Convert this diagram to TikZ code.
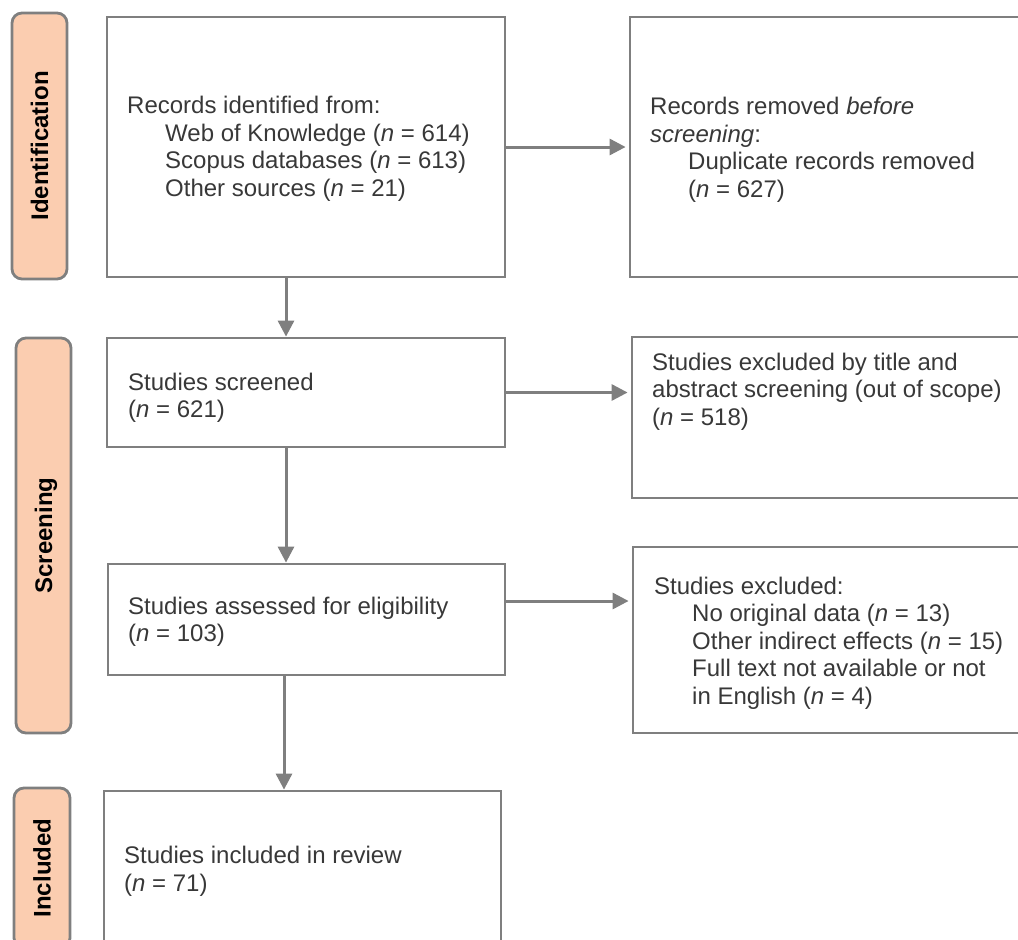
\documentclass[tikz,border=0pt]{standalone}
\usepackage{fontspec}
\setmainfont{Liberation Sans}
\usetikzlibrary{arrows.meta}
\definecolor{linegray}{HTML}{7F7F7F}
\definecolor{txtgray}{HTML}{383838}
\definecolor{peach}{HTML}{FBCDB0}
\tikzset{
  box/.style={draw=linegray, line width=2.8pt, rectangle, inner sep=0pt},
  sidebox/.style={draw=linegray, line width=2.8pt, fill=peach, rectangle, rounded corners=10pt, inner sep=0pt},
  sidetext/.style={rotate=90, font=\fontsize{24}{27.6}\selectfont\bfseries, text=black, inner sep=0pt, text height=17.2pt, text depth=0pt},
  body/.style={anchor=north west, align=left, inner sep=0pt, text=txtgray, font=\fontsize{24}{27.6}\selectfont},
  arr/.style={draw=linegray, line width=3pt, -{Triangle[length=16pt,width=16pt]}}
}
\newcommand{\ind}{\hspace*{38pt}}
\begin{document}
\begin{tikzpicture}[x=1pt,y=1pt]
\useasboundingbox (0,0) rectangle (1018,-940);
\clip (0,0) rectangle (1018,-940);
% side labels
\node[sidebox, minimum width=55pt, minimum height=266pt] (s1) at (39.5,-146) {};
\node[sidetext] (s1t) at (s1.center) {Identification};
\node[sidebox, minimum width=55pt, minimum height=395pt] (s2) at (43.5,-535.5) {};
\node[sidetext] (s2t) at (s2.center) {Screening};
\node[sidebox, minimum width=56pt, minimum height=160pt] (s3) at (42,-868) {};
\node[sidetext] (s3t) at (s3.center) {Included};
% boxes
\node[box, minimum width=398pt, minimum height=260pt] (b1) at (306,-147) {};
\node[box, minimum width=410pt, minimum height=260pt] (b2) at (835,-147) {};
\node[box, minimum width=398pt, minimum height=109pt] (b3) at (306,-392.5) {};
\node[box, minimum width=408pt, minimum height=161pt] (b4) at (836,-417.5) {};
\node[box, minimum width=397pt, minimum height=111pt] (b5) at (306.5,-619.5) {};
\node[box, minimum width=407pt, minimum height=186pt] (b6) at (836.5,-640) {};
\node[box, minimum width=397pt, minimum height=189pt] (b7) at (302.5,-885.5) {};
% texts
\node[body] (t1) at (127,-96) {Records identified from:\\
\ind Web of Knowledge (\textit{n} = 614)\\
\ind Scopus databases (\textit{n} = 613)\\
\ind Other sources (\textit{n} = 21)};
\node[body] (t2) at (650,-97) {Records removed \textit{before}\\
\textit{screening}:\\
\ind Duplicate records removed\\
\ind (\textit{n} = 627)};
\node[body] (t3) at (128,-372.5) {Studies screened\\(\textit{n} = 621)};
\node[body] (t4) at (652,-352.5) {Studies excluded by title and\\
abstract screening (out of scope)\\
(\textit{n} = 518)};
\node[body] (t5) at (128,-596.5) {Studies assessed for eligibility\\(\textit{n} = 103)};
\node[body] (t6) at (654,-576.5) {Studies excluded:\\
\ind No original data (\textit{n} = 13)\\
\ind Other indirect effects (\textit{n} = 15)\\
\ind Full text not available or not\\
\ind in English (\textit{n} = 4)};
\node[body] (t7) at (124,-846) {Studies included in review\\(\textit{n} = 71)};
% connectors
\coordinate (v1) at (286,0);
\coordinate (v3) at (284,0);
\coordinate (h3) at (0,-601);
\draw[arr] (b1.south -| v1) -- (b3.north -| v1);
\draw[arr] (b3.south -| v1) -- (b5.north -| v1);
\draw[arr] (b5.south -| v3) -- (b7.north -| v3);
\draw[arr, shorten >=3pt] (b1.east) -- (b2.west);
\draw[arr, shorten >=3pt] (b3.east) -- (b3.east -| b4.west);
\draw[arr, shorten >=3pt] (b5.east |- h3) -- (b6.west |- h3);
\end{tikzpicture}
\end{document}
